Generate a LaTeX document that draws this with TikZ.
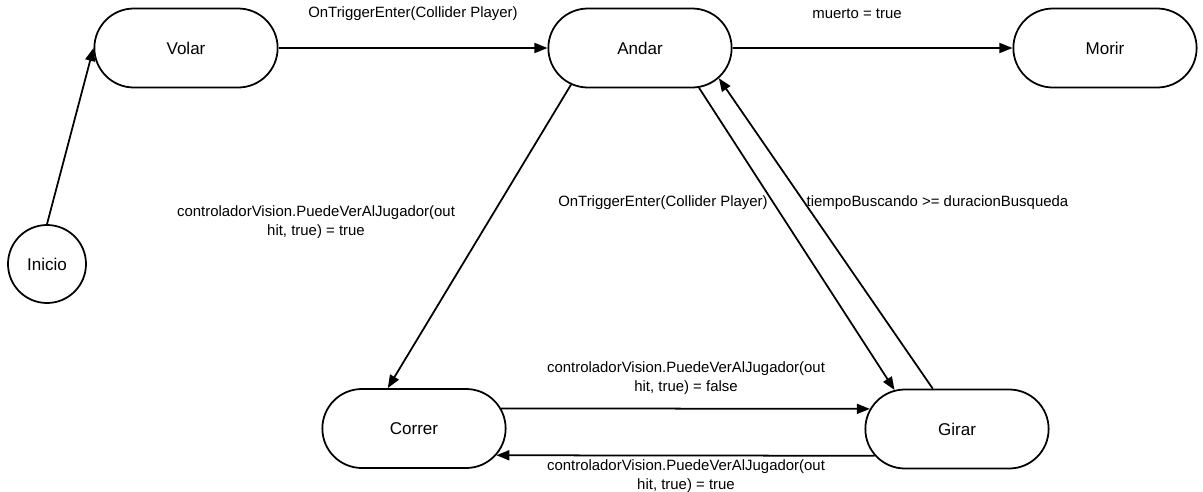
\documentclass[tikz,border=0pt]{standalone}
\usepackage{fontspec}
\setmainfont{Liberation Sans}
\usetikzlibrary{shapes.misc,arrows.meta}

\begin{document}
\begin{tikzpicture}[
		estado/.style={draw, line width=1pt, rounded rectangle, minimum width=3.9cm, minimum height=1.58cm, font=\fontsize{9.7}{11.6}\selectfont},
		inicial/.style={draw, line width=1pt, circle, minimum size=1.56cm, inner sep=0pt, font=\fontsize{9.7}{11.6}\selectfont},
		flecha/.style={line width=1pt, -{Triangle[length=0.26cm,width=0.2cm]}},
		etiqueta/.style={font=\fontsize{8.5}{10.8}\selectfont, align=center, inner sep=1pt}
	]
			\useasboundingbox (0,0) rectangle (24.06,-9.84);
			% estados
			\node[inicial] (inicio) at (0.94,-5.28) {Inicio};
			\node[estado] (volar) at (3.72,-0.96) {Volar};
			\node[estado] (andar) at (12.8,-0.96) {Andar};
			\node[estado] (morir) at (22.1,-0.96) {Morir};
			\node[estado] (correr) at (8.28,-8.57) {Correr};
			\node[estado] (girar) at (19.14,-8.58) {Girar};
			% transiciones
			\draw[flecha] (inicio.north) -- (volar.west);
			\draw[flecha] (volar.east) -- (andar.west);
			\draw[flecha] (andar.east) -- (morir.west);
			\draw[flecha] (andar.208) -- (correr.123);
			\draw[flecha] (andar.326) -- (girar.148);
			\draw[flecha] (girar.121) -- (andar.339);
			\draw[flecha] (correr.13) -- (girar.167);
			\draw[flecha] (girar.198) -- (correr.342);
			% etiquetas
			\node[etiqueta] (eVolarAndar) at (8.26,-0.28) {OnTriggerEnter(Collider Player)};
			\node[etiqueta] (eAndarMorir) at (17.14,-0.28) {muerto = true};
			\node[etiqueta] (eAndarCorrer) at (6.32,-4.44) {controladorVision.PuedeVerAlJugador(out\\hit, true) = true};
			\node[etiqueta] (eAndarGirar) at (13.26,-4.06) {OnTriggerEnter(Collider Player)};
			\node[etiqueta] (eGirarAndar) at (18.75,-4.06) {tiempoBuscando >= duracionBusqueda};
			\node[etiqueta] (eCorrerGirar) at (13.72,-7.56) {controladorVision.PuedeVerAlJugador(out\\hit, true) = false};
			\node[etiqueta] (eGirarCorrer) at (13.72,-9.52) {controladorVision.PuedeVerAlJugador(out\\hit, true) = true};
		\end{tikzpicture}
\end{document}
